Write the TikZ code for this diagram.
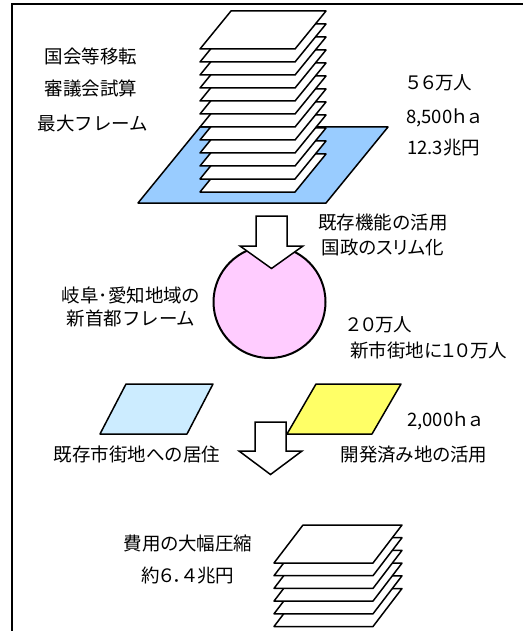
\documentclass[tikz,border=0pt]{standalone}
\usepackage{fontspec}
\setmainfont{Noto Sans CJK JP}
\newfontfamily\propjp[RawFeature=+palt]{Noto Sans CJK JP}
\usepackage{xcolor}

\definecolor{baseblue}{RGB}{153,204,255}
\definecolor{paleblue}{RGB}{204,236,255}
\definecolor{palepink}{RGB}{255,204,255}
\definecolor{paleyellow}{RGB}{255,255,102}

\tikzset{
  sheet/.style={draw, fill=white, line width=1.5pt, line join=round},
  plate/.style={draw, line width=1.5pt, line join=round},
  bigarrow/.style={draw, fill=white, line width=1.5pt},
  lbl/.style={font=\fontsize{18.5}{20}\selectfont, inner sep=0pt,
    text height=0.88em, text depth=0.12em},
}

% one sheet of the stack: top left x, top left y, width, skew
\newcommand{\drawsheet}[4]{%
  \draw[sheet] (#1,#2) -- ++(#3,0) -- ++(-#4,38) -- ++(-#3,0) -- cycle;}

\begin{document}
\begin{tikzpicture}[x=1pt,y=-1pt]
    \useasboundingbox (0,0) rectangle (523,631);
    \draw[line width=2pt] (12,631) -- (12,4) -- (523,4);

    % big frame: land plate and building stack
    \draw[plate, fill=baseblue] (200,127) -- (388,127) -- (326,203) -- (138,203) -- cycle;
    \foreach \k in {11,10,...,0}
      \drawsheet{231}{11+13*\k}{95}{31};

    \node[lbl] (t1) at (91,60) {国会等移転};
    \node[lbl] (t2) at (91,92) {審議会試算};
    \node[lbl] (t3) at (93,127) {最大フレーム};
    \node[lbl, anchor=west] (r1) at (407,86) {\propjp ５６万人};
    \node[lbl, anchor=west] (r2) at (406,120) {\propjp 8,500ｈａ};
    \node[lbl, anchor=west] (r3) at (407,151) {\propjp 12.3兆円};

    % new capital frame
    \draw[line width=2pt, fill=palepink] (269.5,302) circle (56pt);
    \draw[bigarrow] (256,216) -- (287,216) -- (287,246) -- (303,246)
      -- (271.5,268.5) -- (240,246) -- (256,246) -- cycle;

    \node[lbl] (m1) at (383,226) {既存機能の活用};
    \node[lbl] (m2) at (383,251) {\propjp 国政のスリム化};
    \node[lbl] (g1) at (131,299) {\propjp 岐阜･愛知地域の};
    \node[lbl] (g2) at (131,322) {新首都フレーム};
    \node[lbl, anchor=west] (p1) at (347,328) {\propjp ２０万人};
    \node[lbl, anchor=west] (p2) at (350,354) {\propjp 新市街地に１０万人};

    % existing town and developed land
    \draw[plate, fill=paleblue] (126,384) -- (213,384) -- (187,434) -- (100,434) -- cycle;
    \draw[plate, fill=paleyellow] (316,384) -- (401,384) -- (372,434) -- (287,434) -- cycle;
    \draw[bigarrow] (255,422) -- (286,422) -- (286,451) -- (302,451)
      -- (270.5,474.5) -- (239,451) -- (255,451) -- cycle;

    \node[lbl, anchor=west] (h1) at (407,423) {\propjp 2,000ｈａ};
    \node[lbl] (e1) at (137,458) {\propjp 既存市街地への居住};
    \node[lbl] (e2) at (414,458) {\propjp 開発済み地の活用};

    % reduced cost stack
    \foreach \k in {5,4,...,0}
      \drawsheet{303}{525+12.7*\k}{99}{29};

    \node[lbl] (c1) at (188,547) {\propjp 費用の大幅圧縮};
    \node[lbl] (c2) at (188,579) {\propjp 約６．４兆円};
\end{tikzpicture}
\end{document}
